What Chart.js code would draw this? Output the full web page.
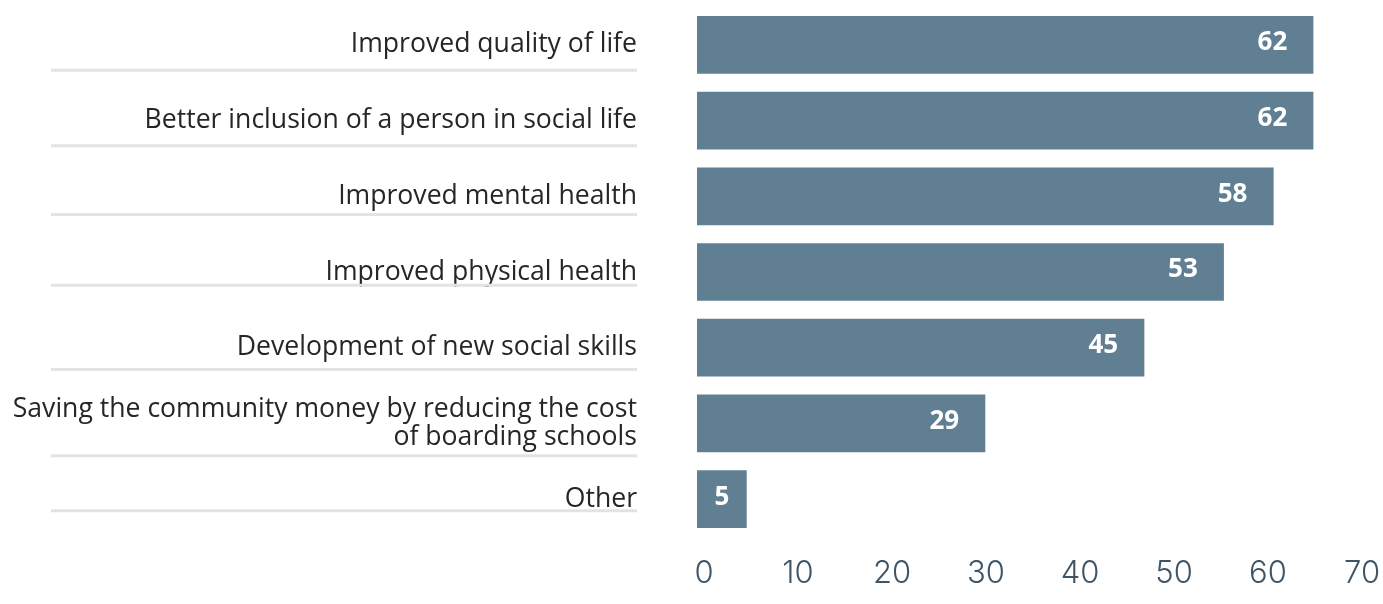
<!DOCTYPE html>
<html>
<head>
<meta charset="utf-8">
<title>Benefits</title>
<script src="https://cdn.jsdelivr.net/npm/chart.js@4.4.1/dist/chart.umd.min.js"></script>
<style>
  html, body { margin: 0; padding: 0; background: #fff; }
  #wrap { width: 1383px; height: 604px; position: relative; }
</style>
</head>
<body>
<div id="wrap"><canvas id="benefitsChart"></canvas></div>
<script>
// Reported benefits, share of respondents (%)
const categories = [
  'Improved quality of life',
  'Better inclusion of a person in social life',
  'Improved mental health',
  'Improved physical health',
  'Development of new social skills',
  ['Saving the community money by reducing the cost', 'of boarding schools'],
  'Other'
];
const shares = [62, 62, 58, 53, 45, 29, 5];
const axisTicks = [0, 10, 20, 30, 40, 50, 60, 70];

const BAR_COLOR = '#617f92';
const LABEL_COLOR = '#262626';
const TICK_COLOR = '#3e5568';

// gap between each category centre and the grey rule under its label
const underlineGap = [25.5, 25.2, 18.3, 13.3, 21.7, 32.3, 11.7];

// grey rule under each category label
const underlinePlugin = {
  id: 'underlines',
  afterDraw(chart) {
    const { ctx, chartArea } = chart;
    const yScale = chart.scales.y;
    ctx.save();
    ctx.strokeStyle = '#e3e3e3';
    ctx.lineWidth = 3;
    categories.forEach((c, i) => {
      const y = yScale.getPixelForValue(i) + underlineGap[i];
      ctx.beginPath();
      ctx.moveTo(51, y);
      ctx.lineTo(chartArea.left - 60, y);
      ctx.stroke();
    });
    ctx.restore();
  }
};

// white value inside the end of each bar
const valueLabelPlugin = {
  id: 'valueLabels',
  afterDatasetsDraw(chart) {
    const { ctx } = chart;
    const meta = chart.getDatasetMeta(0);
    ctx.save();
    ctx.fillStyle = '#ffffff';
    ctx.font = '700 26px "Open Sans", sans-serif';
    ctx.textAlign = 'center';
    ctx.textBaseline = 'middle';
    meta.data.forEach((bar, i) => {
      const x = Math.max(bar.x - 41, (bar.x + bar.base) / 2);
      ctx.fillText(String(shares[i]), x, bar.y - 2);
    });
    ctx.restore();
  }
};

new Chart(document.getElementById('benefitsChart'), {
  type: 'bar',
  data: {
    labels: categories,
    datasets: [{
      data: shares,
      backgroundColor: BAR_COLOR,
      borderWidth: 0,
      categoryPercentage: 1,
      barPercentage: 0.762
    }]
  },
  options: {
    indexAxis: 'y',
    responsive: true,
    maintainAspectRatio: false,
    animation: false,
    layout: { padding: { top: 7, right: 5, bottom: 0, left: 0 } },
    plugins: {
      legend: { display: false },
      tooltip: { enabled: false }
    },
    scales: {
      x: {
        type: 'linear',
        display: false,
        min: 0,
        max: 68.5
      },
      // tick row drawn on its own axis, as in the source graphic
      x2: {
        type: 'linear',
        axis: 'x',
        position: 'bottom',
        min: -0.745,
        max: 71.7,
        grid: { display: false, drawTicks: false },
        border: { display: false },
        ticks: {
          color: TICK_COLOR,
          padding: 18,
          font: { family: 'Inter', size: 31, weight: 300 }
        },
        afterBuildTicks(scale) {
          scale.ticks = axisTicks.map((v) => ({ value: v }));
        },
        afterFit(scale) {
          scale.height = 67;
          scale.paddingLeft = 0;
          scale.paddingRight = 0;
        }
      },
      y: {
        type: 'category',
        position: 'left',
        grid: { display: false, drawTicks: false },
        border: { display: false },
        ticks: {
          color: LABEL_COLOR,
          padding: 60,
          font: { family: '"Open Sans"', size: 26.6, lineHeight: 28 / 26.6 }
        },
        afterFit(scale) {
          scale.width = 697;
          scale.paddingTop = 0;
          scale.paddingBottom = 0;
        }
      }
    }
  },
  plugins: [underlinePlugin, valueLabelPlugin]
});
</script>
</body>
</html>
